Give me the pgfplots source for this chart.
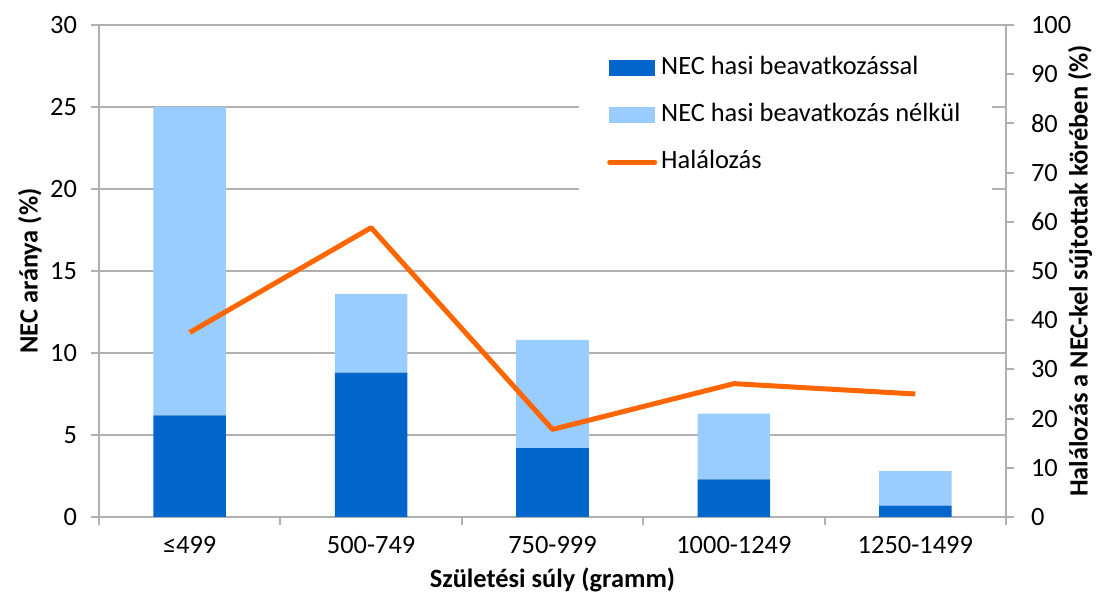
\documentclass[border=0pt]{standalone}
\usepackage{pgfplots}
\pgfplotsset{compat=1.18}
\usepackage{pgfplotstable}
\usepackage{fontspec}
\setmainfont{Carlito}

\definecolor{necdark}{HTML}{0066CC}
\definecolor{neclight}{HTML}{99CCFF}
\definecolor{halor}{HTML}{FF6600}
\definecolor{gridgray}{HTML}{B0B0B0}
\newcommand\chfont{\fontsize{13.2pt}{15.5pt}\selectfont}

% x: category index, dark: with surgery, light: without surgery, hal: mortality (%)
\pgfplotstableread{
x dark light hal
0 6.2 18.8 37.5
1 8.8 4.8 58.8
2 4.2 6.6 17.8
3 2.3 4.0 27.1
4 0.7 2.1 25.0
}\necdata

\begin{document}
\begin{tikzpicture}
  \pgfplotsset{
    common/.style={
      at={(0,0)}, anchor=south west,
      scale only axis, width=453.5pt, height=246pt,
      xmin=-0.5, xmax=4.5,
      tick align=outside,
      major tick length=4pt, minor tick length=4pt,
      axis line style={draw=gridgray, line width=1pt, -},
      every tick/.style={gridgray, line width=1pt},
      ticklabel style={font=\chfont},
      label style={font=\chfont\bfseries},
      /pgf/number format/assume math mode=true,
    }
  }
  \begin{axis}[
    common,
    ybar stacked, bar width=0.4,
    ymin=0, ymax=30, ytick={0,5,...,30},
    xtick={0,...,4},
    xticklabels={≤499,500-749,750-999,1000-1249,1250-1499},
    minor xtick={-0.5,0.5,1.5,2.5,3.5,4.5},
    x tick style={draw=none},
    minor x tick style={draw=gridgray, line width=1pt},
    xticklabel style={yshift=-2pt},
    yticklabel style={xshift=-3.5pt},
    axis x line*=bottom, axis y line*=left,
    ymajorgrids, grid style={gridgray, line width=1pt},
    xlabel={Születési súly (gramm)},
    ylabel={NEC aránya (\%)},
    every axis x label/.style={at={(axis description cs:0.5,0)}, yshift=-31.5pt, anchor=center, font=\chfont\bfseries},
    every axis y label/.style={at={(axis description cs:0,0.5)}, xshift=-34.5pt, rotate=90, anchor=center, font=\chfont\bfseries},
  ]
    \addplot[fill=necdark, draw=none] table[x=x, y=dark]{\necdata};
    \addplot[fill=neclight, draw=none] table[x=x, y=light]{\necdata};
  \end{axis}
  \begin{axis}[
    common,
    ymin=0, ymax=100, ytick={0,10,...,100},
    axis y line*=right, axis x line=none,
    yticklabel style={xshift=5pt},
    ylabel={Halálozás a NEC-kel sújtottak körében (\%)},
    every axis y label/.style={at={(axis description cs:1,0.5)}, xshift=37pt, rotate=90, anchor=center, font=\chfont\bfseries},
    legend cell align=left,
    legend style={
      at={(axis description cs:0.529,0.97)}, anchor=north west,
      draw=none, fill=white, font=\chfont,
      inner xsep=14pt, inner ysep=6pt,
      row sep=7.5pt,
      nodes={inner sep=2pt, text height=9pt, text depth=3pt},
    },
  ]
    \addlegendimage{legend image code/.code={\fill[necdark] (0pt,-3.75pt) rectangle (22.5pt,3.75pt);}}
    \addlegendentry{NEC hasi beavatkozással}
    \addlegendimage{legend image code/.code={\fill[neclight] (0pt,-3.75pt) rectangle (22.5pt,3.75pt);}}
    \addlegendentry{NEC hasi beavatkozás nélkül}
    \addplot[halor, line width=2.5pt, line join=round, mark=none,
      legend image code/.code={\draw[halor, line width=2.5pt, line cap=round] (0pt,0pt) -- (22.5pt,0pt);}]
      table[x=x, y=hal]{\necdata};
    \addlegendentry{Halálozás}
  \end{axis}
  \pgfresetboundingbox
  \path (-49.5pt,-40pt) rectangle (498.5pt,258.5pt);
\end{tikzpicture}
\end{document}
